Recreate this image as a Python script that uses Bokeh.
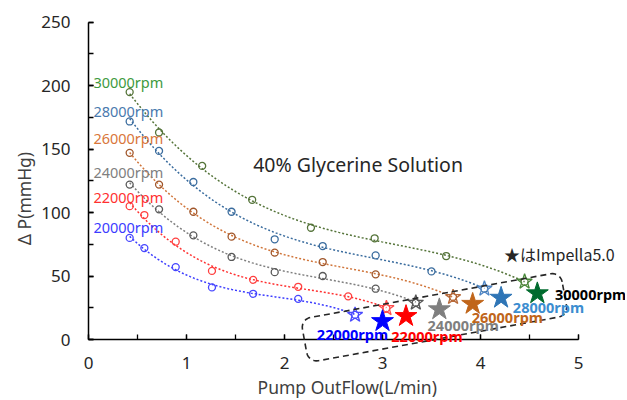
import numpy as np
from bokeh.plotting import figure
from bokeh.models import Label, PolyAnnotation, SingleIntervalTicker, Range1d
from bokeh.embed import file_html
from bokeh.resources import INLINE

# ---------------- data ----------------
rpm_labels = ["20000rpm", "22000rpm", "24000rpm", "26000rpm", "28000rpm", "30000rpm"]

x20 = [0.42, 0.57, 0.89, 1.26, 1.68, 2.14, 2.72]
y20 = [80, 72, 57, 41, 36, 32, 19.4]
x22 = [0.42, 0.57, 0.89, 1.26, 1.68, 2.14, 2.65, 3.04]
y22 = [105, 98, 77, 54, 47, 41.5, 34, 24.7]
x24 = [0.42, 0.72, 1.07, 1.46, 1.90, 2.39, 2.93, 3.34]
y24 = [122, 102.5, 82, 65, 53, 50, 40, 28.9]
x26 = [0.42, 0.72, 1.07, 1.46, 1.90, 2.39, 2.93, 3.72]
y26 = [147, 122, 100.6, 81, 68.4, 61, 51.3, 33.4]
x28 = [0.42, 0.72, 1.07, 1.46, 1.90, 2.39, 2.93, 3.50, 4.04]
y28 = [171.7, 148.5, 124, 100.6, 78.9, 73.6, 66.2, 53.6, 40]
x30 = [0.42, 0.72, 1.16, 1.67, 2.27, 2.92, 3.65, 4.45]
y30 = [194.8, 163, 136.7, 110, 88, 79.7, 65.7, 45.5]

impella_x = [3.00, 3.24, 3.58, 3.92, 4.21, 4.58]
impella_y = [14.4, 18.4, 23.7, 28.0, 32.8, 36.3]
impella_labels = ["22000rpm", "22000rpm", "24000rpm", "26000rpm", "28000rpm", "30000rpm"]

series_x = [x20, x22, x24, x26, x28, x30]
series_y = [y20, y22, y24, y26, y28, y30]

# ---------------- styles ----------------
dot_colors = ["#4646FF", "#FF4040", "#595959", "#A0562A", "#3A6C9E", "#55743A"]
line_colors = ["#3C3CFF", "#FF3030", "#7F7F7F", "#D0753A", "#3A6C9E", "#55743A"]
text_colors = ["#3C3CFF", "#FF3030", "#7F7F7F", "#D9763A", "#4A7AAE", "#3E9A3E"]
star_colors = ["#0000FF", "#FF0000", "#7F7F7F", "#C0651A", "#2E75B6", "#006B2E"]
star_text_colors = ["#0000FF", "#FF0000", "#7F7F7F", "#C0651A", "#3C8DD0", "#000000"]
hollow_star_colors = ["#4A4AFF", "#FF5050", "#595959", "#B86A3A", "#4F86C6", "#4A8A3A"]
FONT = "Noto Sans"
JFONT = "Noto Sans CJK JP"

# layout: frame covers the whole canvas; axes are placed at 0
SX, SY = 98.0, 1.27          # px per data unit
CW, CH = 625, 398            # canvas size
ORIG_X, ORIG_Y = 88, 339     # canvas px of data origin (0,0)
x_lo = -ORIG_X / SX
x_hi = x_lo + CW / SX
y_hi = ORIG_Y / SY
y_lo = y_hi - CH / SY

p = figure(frame_width=CW, frame_height=CH,
           x_range=Range1d(x_lo, x_hi), y_range=Range1d(y_lo, y_hi),
           output_backend="svg", toolbar_location=None, min_border=0)
p.outline_line_color = None
p.grid.visible = False
p.background_fill_color = "white"

p.xaxis.ticker = SingleIntervalTicker(interval=1, num_minor_ticks=2)
p.yaxis.ticker = SingleIntervalTicker(interval=50, num_minor_ticks=2)
p.xaxis.bounds = (0, 5)
p.yaxis.bounds = (0, 250)
p.xaxis.fixed_location = 0
p.yaxis.fixed_location = 0
for ax in (p.xaxis[0], p.yaxis[0]):
    ax.axis_line_color = "black"
    ax.axis_line_width = 1.5
    ax.major_tick_line_color = "black"
    ax.minor_tick_line_color = "black"
    ax.major_tick_line_width = 1.3
    ax.minor_tick_line_width = 1.3
    ax.major_tick_in = 5
    ax.major_tick_out = 0
    ax.minor_tick_in = 5
    ax.minor_tick_out = 0
    ax.major_label_text_font = FONT
    ax.major_label_text_font_size = "17px"
    ax.major_label_text_color = "#262626"
p.xaxis.major_label_standoff = 17
p.yaxis.major_label_standoff = 18

# axis titles
p.add_layout(Label(x=2.64, y=-37.5, text="Pump OutFlow(L/min)", text_color="#404040",
                   text_font=FONT, text_font_size="17.5px", text_align="center",
                   text_baseline="middle"))
p.add_layout(Label(x=-0.663, y=111, text="Δ P(mmHg)", text_color="#404040",
                   text_font=FONT, text_font_size="17.5px", text_align="center",
                   text_baseline="middle", angle=np.pi / 2))

# trend lines + points
for i in range(6):
    xs = np.array(series_x[i])
    ys = np.array(series_y[i])
    coef = np.polyfit(xs, ys, 3)
    xx = np.linspace(xs.min(), xs.max(), 120)
    p.line(xx, np.polyval(coef, xx), line_color=line_colors[i], line_width=1.5,
           line_dash="2 2")
    p.scatter(xs, ys, marker="circle", size=7, fill_color=None,
              line_color=dot_colors[i], line_width=1.3)
    p.scatter([xs[-1]], [ys[-1]], marker="star", size=16, fill_color=None,
              line_color=hollow_star_colors[i], line_width=1.3)

# Impella stars
p.scatter(impella_x, impella_y, marker="star", size=23, fill_color=star_colors,
          line_color=star_colors)

# dashed rounded box (rotated)
box_cx, box_cy = 3.53, 17.5
half_w, half_h, rad, ang = 132, 22, 10, np.deg2rad(10.3)
pts = []
corners = [(half_w - rad, half_h - rad, 0), (-(half_w - rad), half_h - rad, 90),
           (-(half_w - rad), -(half_h - rad), 180), (half_w - rad, -(half_h - rad), 270)]
for cx, cy, a0 in corners:
    for t in np.linspace(a0, a0 + 90, 8):
        tr = np.deg2rad(t)
        pts.append((cx + rad * np.cos(tr), cy + rad * np.sin(tr)))
pts = np.array(pts)
rx = pts[:, 0] * np.cos(ang) - pts[:, 1] * np.sin(ang)
ry = pts[:, 0] * np.sin(ang) + pts[:, 1] * np.cos(ang)
p.add_layout(PolyAnnotation(xs=list(box_cx + rx / SX), ys=list(box_cy + ry / SY),
                            fill_alpha=0, line_color="#262626", line_alpha=1,
                            line_width=1.6, line_dash="6 4"))

# left curve labels
left_y = [88.6, 112, 132, 159, 180, 203]
for i in range(6):
    p.add_layout(Label(x=0.05, y=left_y[i], text=rpm_labels[i], text_color=text_colors[i],
                       text_font=FONT, text_font_size="14.5px", text_baseline="middle",
                       text_align="left"))

# impella labels
imp_lx = [2.33, 3.09, 3.46, 3.91, 4.33, 4.76]
imp_ly = [4.7, 2.4, 11.8, 17.7, 25.6, 35.5]
for i in range(6):
    p.add_layout(Label(x=imp_lx[i], y=imp_ly[i], text=impella_labels[i],
                       text_color=star_text_colors[i], text_font=FONT,
                       text_font_size="14.5px", text_font_style="bold",
                       text_baseline="middle", text_align="left"))

p.add_layout(Label(x=1.68, y=138, text="40% Glycerine Solution", text_color="#262626",
                   text_font=FONT, text_font_size="19.5px", text_baseline="middle",
                   text_align="left"))
p.add_layout(Label(x=4.24, y=67.7, text="★はImpella5.0", text_color="#262626",
                   text_font=JFONT, text_font_size="16px", text_baseline="middle",
                   text_align="left"))

open("out.html", "w").write(file_html(p, INLINE))
